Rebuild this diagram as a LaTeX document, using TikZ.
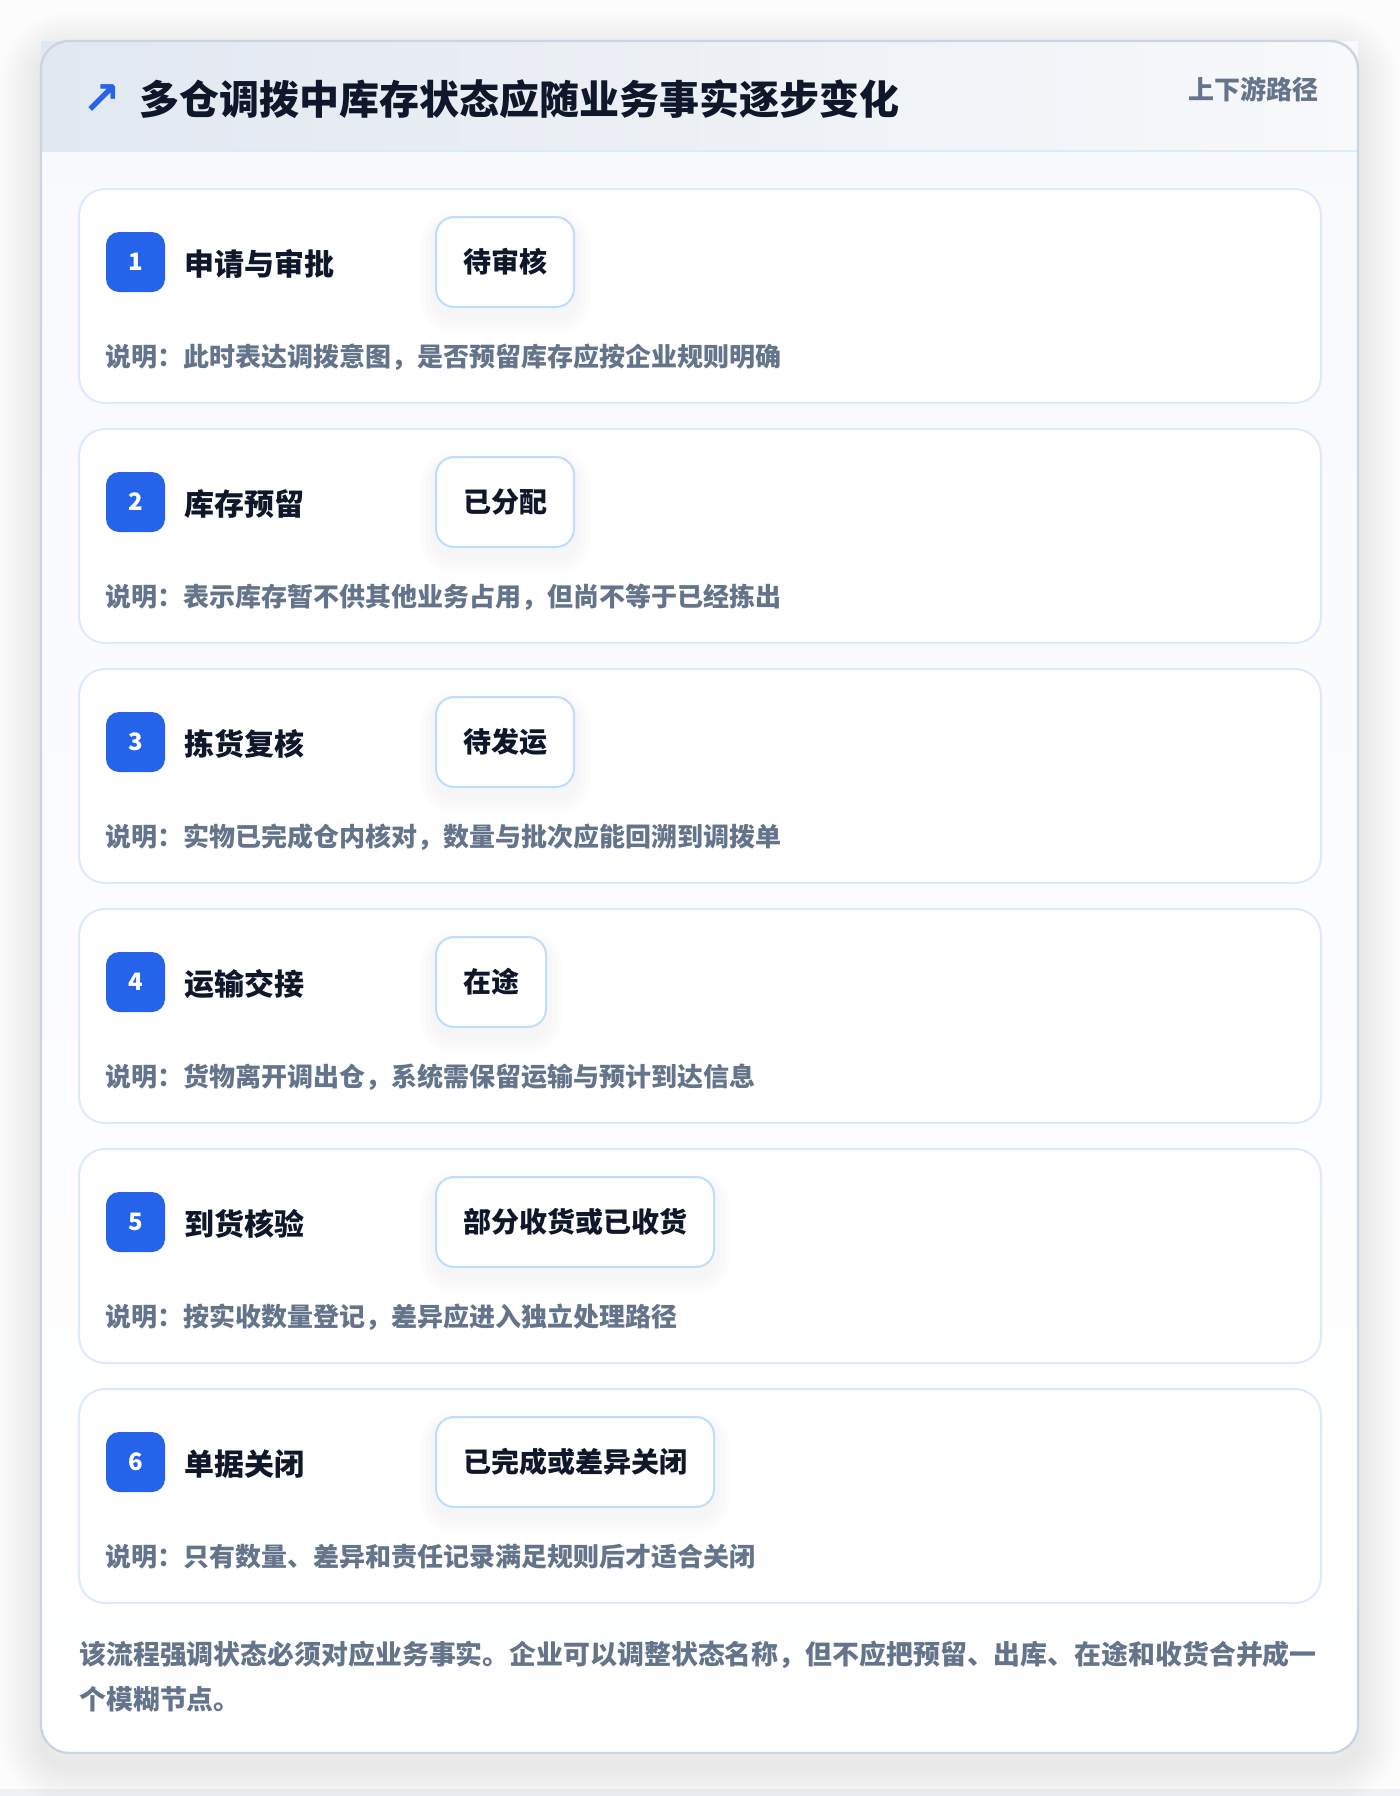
\documentclass[tikz,border=0pt]{standalone}
\usepackage{fontspec}
\setmainfont{Noto Sans CJK SC}
\newfontfamily\arrowfont{DejaVu Sans}
\usetikzlibrary{positioning}

\definecolor{inkdark}{HTML}{0F172A}
\definecolor{graytxt}{HTML}{64748B}
\definecolor{badgeblue}{HTML}{2563EB}
\definecolor{boxline}{HTML}{BFDBFE}
\definecolor{cardline}{HTML}{DBEAFE}
\definecolor{outline}{HTML}{CBD5E1}
\definecolor{pagebg}{HTML}{FCFCFD}
\definecolor{bodytop}{HTML}{F7F9FC}
\definecolor{headl}{HTML}{E2E8F0}
\definecolor{headr}{HTML}{F7F9FB}

\tikzset{
  stepcard/.style={draw=cardline, line width=1pt, fill=white, rounded corners=13pt},
  badge/.style={fill=badgeblue, rounded corners=6.5pt, minimum width=29.5pt, minimum height=30pt,
    inner sep=0pt, text height=8.6pt, text depth=0pt, text=white, font=\bfseries\fontsize{12}{12}\selectfont},
  steplabel/.style={anchor=base west, inner sep=0pt, text=inkdark, font=\bfseries\fontsize{15}{15}\selectfont},
  status/.style={draw=boxline, line width=1pt, fill=white, rounded corners=9pt, line join=round,
    minimum height=45pt, inner xsep=13.5pt, inner ysep=0pt, anchor=west, text=inkdark,
    preaction={draw=inkdark, fill=none, draw opacity=0.010, line width=16pt, transform canvas={yshift=-5pt}},
    preaction={draw=inkdark, fill=none, draw opacity=0.010, line width=11pt, transform canvas={yshift=-5pt}},
    preaction={draw=inkdark, fill=none, draw opacity=0.012, line width=6pt, transform canvas={yshift=-4pt}},
    font=\bfseries\fontsize{14}{14}\selectfont},
  note/.style={anchor=base west, inner sep=0pt, text=graytxt, font=\bfseries\fontsize{13}{13}\selectfont},
}

\begin{document}
\begin{tikzpicture}[x=0.5pt, y=-0.5pt]
\useasboundingbox (0,0) rectangle (1400,1796);
\fill[pagebg] (0,0) rectangle (1400,1796);
\fill[headl!60] (0,1789) rectangle (1400,1796);

% soft shadow round the outer card
\foreach \w in {1,...,10}
  \draw[inkdark, draw opacity=0.006, line width=\w*4pt, rounded corners=14pt] (41,53) rectangle (1358,1765);

% outer card and header
\fill[top color=bodytop, bottom color=white, rounded corners=14pt] (41,41) rectangle (1358,1753);
\fill[left color=headl, right color=headr] (41,41) rectangle (1358,151);
\draw[cardline, line width=1pt] (41,151) -- (1358,151);
\draw[outline, line width=1.2pt, rounded corners=14pt] (41,41) rectangle (1358,1753);

\node[text=badgeblue, inner sep=0pt, font=\arrowfont\bfseries\fontsize{23}{23}\selectfont] (arrow) at (102,100) {↗};
\node[anchor=base west, inner sep=0pt, text=inkdark, font=\bfseries\fontsize{20}{20}\selectfont] (title) at (139,114)
  {多仓调拨中库存状态应随业务事实逐步变化};
\node[anchor=base east, inner sep=0pt, text=graytxt, font=\bfseries\fontsize{13}{13}\selectfont] (tag) at (1319,99)
  {上下游路径};

% the six steps
\foreach \n/\lab/\st/\desc in {
  1/申请与审批/待审核/说明：此时表达调拨意图，是否预留库存应按企业规则明确,
  2/库存预留/已分配/说明：表示库存暂不供其他业务占用，但尚不等于已经拣出,
  3/拣货复核/待发运/说明：实物已完成仓内核对，数量与批次应能回溯到调拨单,
  4/运输交接/在途/说明：货物离开调出仓，系统需保留运输与预计到达信息,
  5/到货核验/部分收货或已收货/说明：按实收数量登记，差异应进入独立处理路径,
  6/单据关闭/已完成或差异关闭/说明：只有数量、差异和责任记录满足规则后才适合关闭}{
  \pgfmathsetmacro\ty{189+240*(\n-1)}
  \draw[stepcard] (79,\ty) rectangle (1321,\ty+214);
  \node[badge] (badge\n) at (135.5,\ty+73) {\n};
  \node[steplabel] (label\n) at (184,\ty+86) {\lab};
  \node[status] (state\n) at (435,\ty+73) {\st};
  \node[note] (note\n) at (105,\ty+177) {\desc};
}

% closing remark
\node[note, font=\bfseries\fontsize{13.45}{13.45}\selectfont] (remark1) at (79,1664)
  {该流程强调状态必须对应业务事实。企业可以调整状态名称，但不应把预留、出库、在途和收货合并成一};
\node[note, font=\bfseries\fontsize{13.45}{13.45}\selectfont] (remark2) at (79,1709) {个模糊节点。};
\end{tikzpicture}
\end{document}
